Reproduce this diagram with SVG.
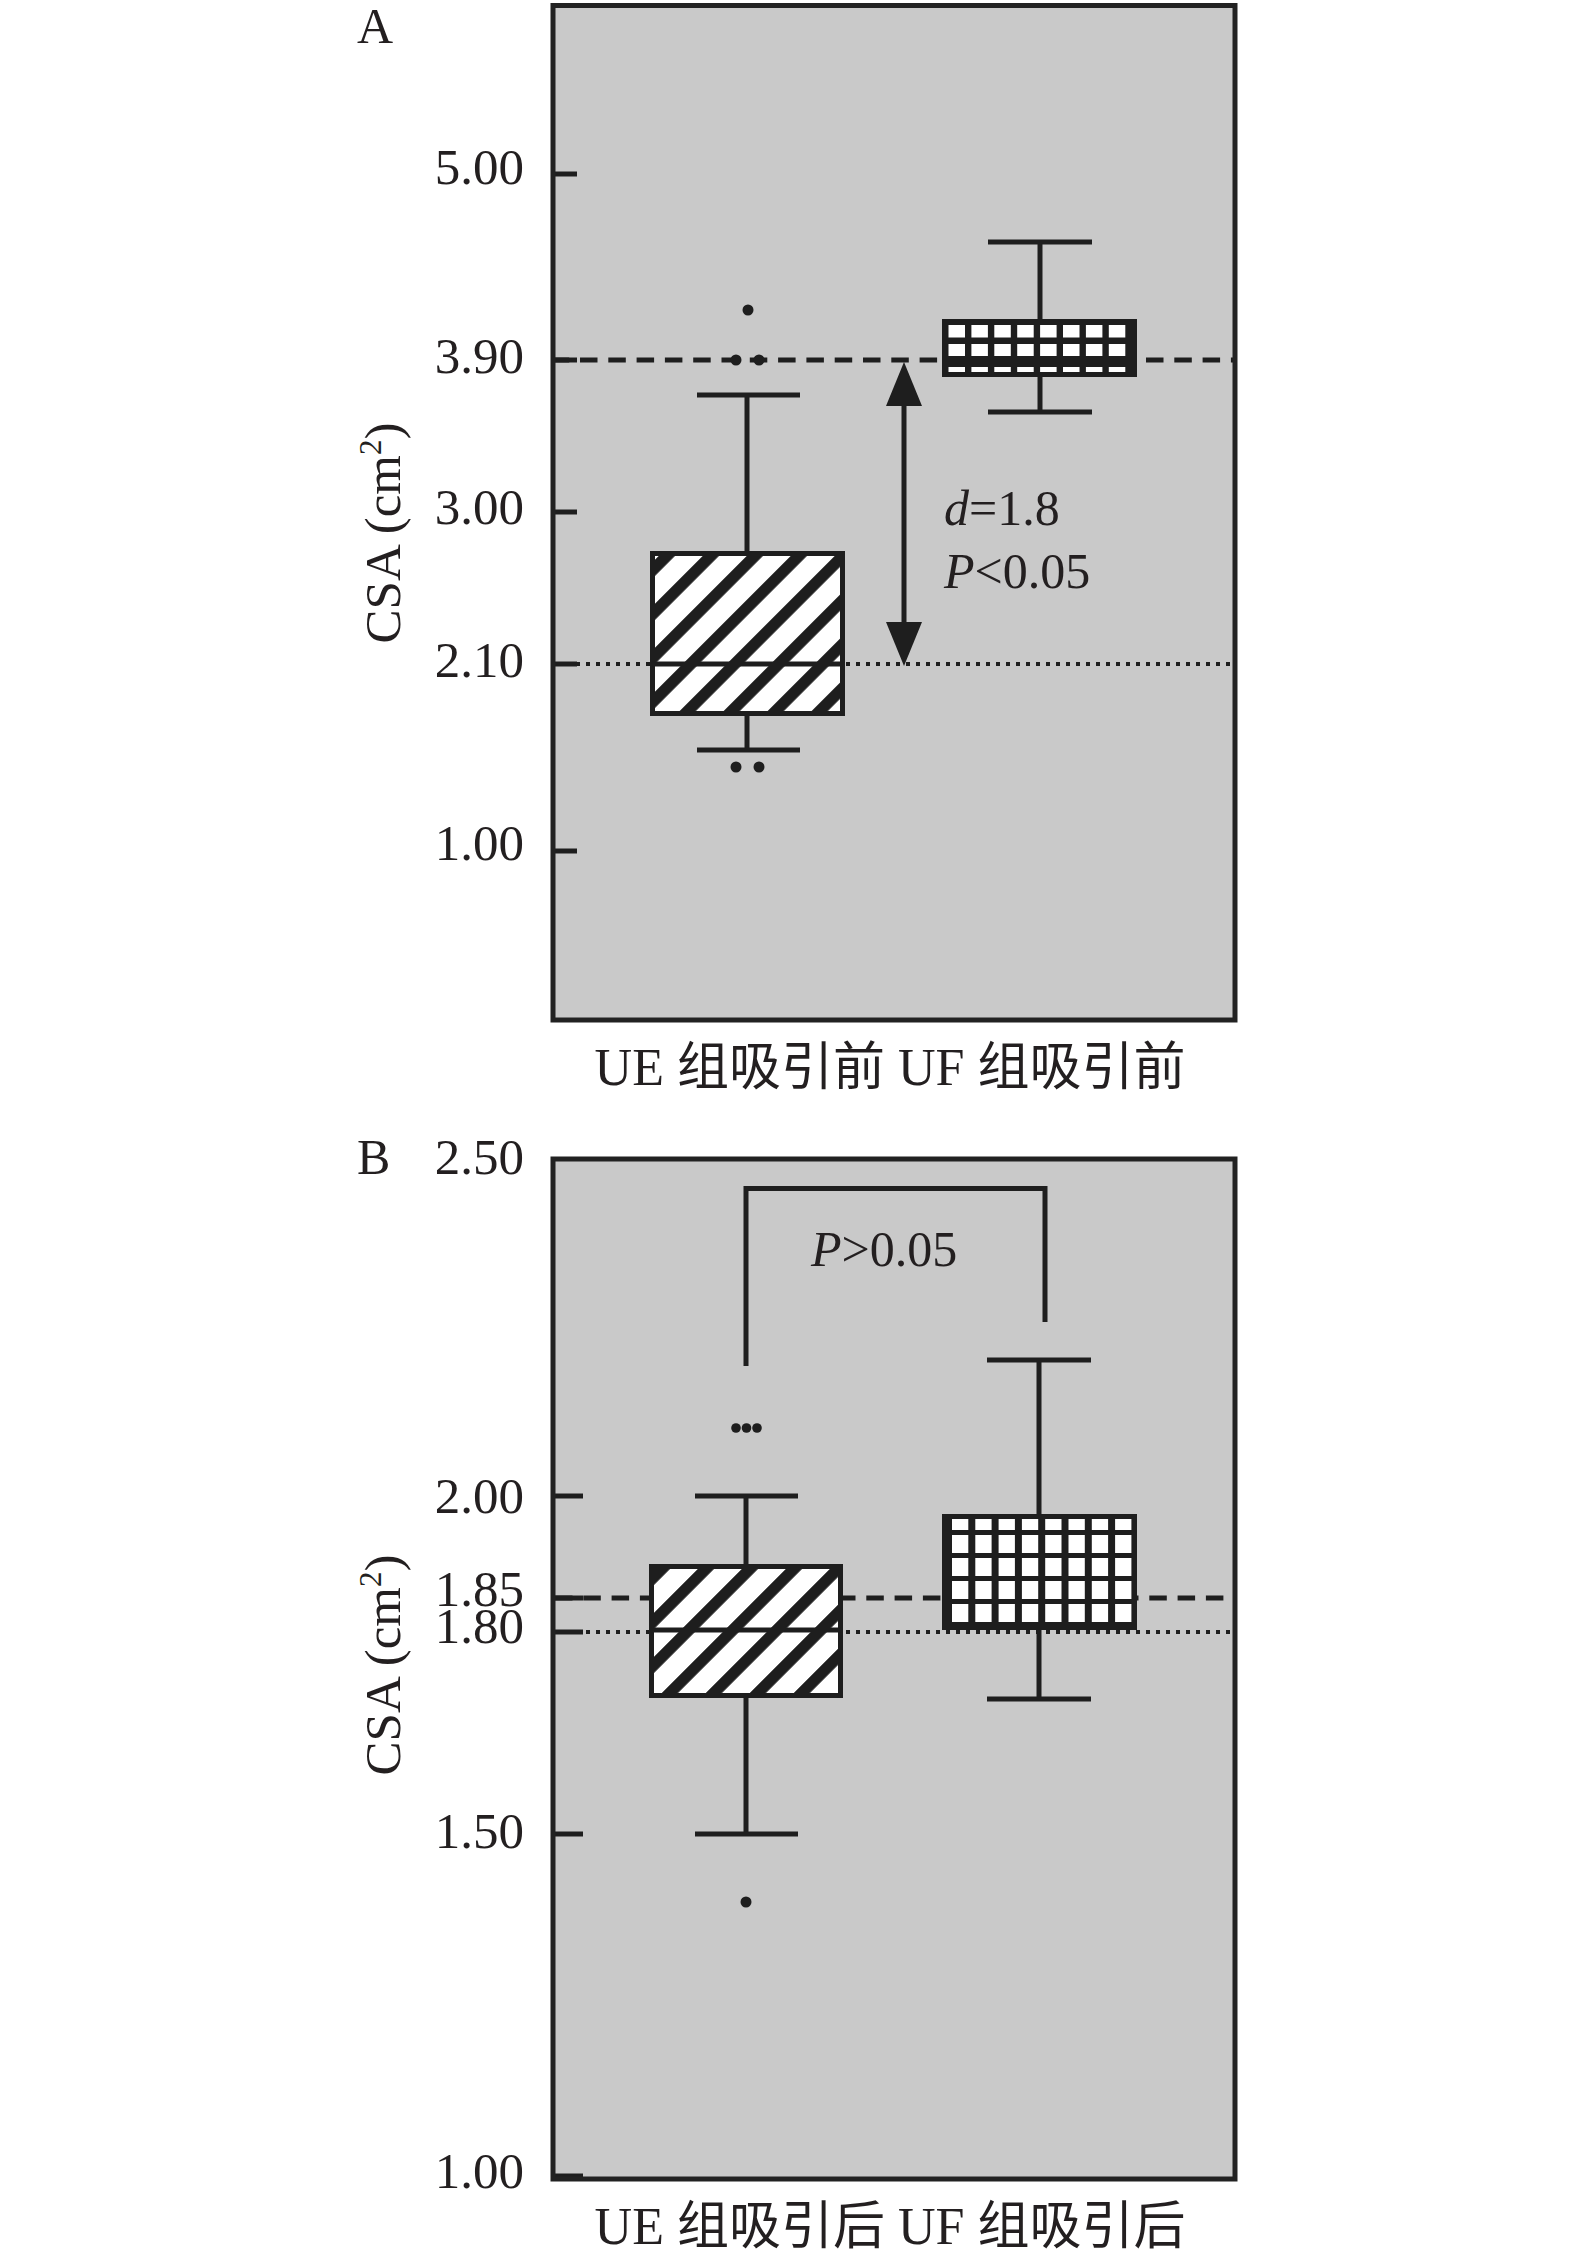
<svg xmlns="http://www.w3.org/2000/svg" width="1575" height="2252" viewBox="0 0 1575 2252">
<style>
text{font-family:"Liberation Serif","Noto Sans CJK SC",serif;fill:#231f20}
.tick{font-size:51px;text-anchor:end}
.lbl{font-size:52px}
.ln{stroke:#1e1e1e;stroke-width:5;fill:none}
.dash{stroke:#1e1e1e;stroke-width:5;stroke-dasharray:17.5 10.8;fill:none}
.dot{stroke:#1e1e1e;stroke-width:4;stroke-dasharray:4 6;fill:none}
.out{fill:#1e1e1e}
.cell{fill:#fff}
.dark{fill:#1e1e1e}
.ue{stroke:#1e1e1e;stroke-width:5}
</style>
<defs>
<pattern id="stripesA" patternUnits="userSpaceOnUse" x="18.9" y="0" width="31.11" height="20" patternTransform="rotate(45)">
<rect x="0" y="0" width="31.11" height="20" fill="#fff"/>
<rect x="0" y="0" width="11.5" height="20" fill="#1e1e1e"/>
</pattern>
<pattern id="stripesB" patternUnits="userSpaceOnUse" x="16.2" y="0" width="31.11" height="20" patternTransform="rotate(45)">
<rect x="0" y="0" width="31.11" height="20" fill="#fff"/>
<rect x="0" y="0" width="11.5" height="20" fill="#1e1e1e"/>
</pattern>
<marker id="head" viewBox="0 0 44 36" refX="20" refY="18" markerWidth="44" markerHeight="36" markerUnits="userSpaceOnUse" orient="auto-start-reverse">
<path d="M0,0 L44,18 L0,36 z" fill="#1e1e1e"/>
</marker>
</defs>

<!-- ================= PANEL A ================= -->
<g id="panel-a">
<rect id="frame-a-bg" x="553" y="5.5" width="682" height="1014.5" fill="#c9c9c9"/>
<text x="357" y="43" font-size="50">A</text>
<g id="axis-a">
<line class="ln" x1="553" y1="174" x2="577" y2="174"/>
<line class="ln" x1="553" y1="360" x2="577" y2="360"/>
<line class="ln" x1="553" y1="512" x2="577" y2="512"/>
<line class="ln" x1="553" y1="664" x2="577" y2="664"/>
<line class="ln" x1="553" y1="851" x2="577" y2="851"/>
<text class="tick" x="524" y="184">5.00</text>
<text class="tick" x="524" y="373">3.90</text>
<text class="tick" x="524" y="524">3.00</text>
<text class="tick" x="524" y="677">2.10</text>
<text class="tick" x="524" y="860">1.00</text>
<text font-size="51" text-anchor="middle" transform="translate(400,533) rotate(-90)">CSA (cm<tspan font-size="31" dy="-19">2</tspan><tspan dy="19">)</tspan></text>
</g>
<g id="reflines-a">
<line class="dash" x1="551.7" y1="360" x2="1233" y2="360"/>
<line class="dot" x1="556" y1="664" x2="1233" y2="664"/>
</g>
<g id="ue-before">
<line class="ln" x1="747" y1="395" x2="747" y2="553"/>
<line class="ln" x1="697" y1="395" x2="800" y2="395"/>
<line class="ln" x1="747" y1="716" x2="747" y2="750"/>
<line class="ln" x1="697" y1="750" x2="800" y2="750"/>
<rect class="ue" x="652.5" y="553.5" width="190" height="160" fill="url(#stripesA)"/>
<line class="ln" x1="652.5" y1="664" x2="842.5" y2="664"/>
<circle class="out" cx="748" cy="310" r="5.5"/>
<circle class="out" cx="736" cy="360" r="5.5"/>
<circle class="out" cx="759" cy="360" r="5.5"/>
<circle class="out" cx="736" cy="767" r="5.5"/>
<circle class="out" cx="759" cy="767" r="5.5"/>
</g>
<g id="uf-before">
<line class="ln" x1="1040" y1="242" x2="1040" y2="319"/>
<line class="ln" x1="988" y1="242" x2="1092" y2="242"/>
<line class="ln" x1="1040" y1="377" x2="1040" y2="412"/>
<line class="ln" x1="988" y1="412" x2="1092" y2="412"/>
<rect class="dark" x="942" y="319" width="195" height="58"/>
<g class="cell">
<rect x="948.5" y="325" width="16.5" height="12.5"/><rect x="971.4" y="325" width="16.5" height="12.5"/><rect x="994.3" y="325" width="16.5" height="12.5"/><rect x="1017.2" y="325" width="16.5" height="12.5"/><rect x="1040.1" y="325" width="16.5" height="12.5"/><rect x="1063" y="325" width="16.5" height="12.5"/><rect x="1085.9" y="325" width="16.5" height="12.5"/><rect x="1108.8" y="325" width="16.5" height="12.5"/>
<rect x="948.5" y="344" width="16.5" height="12"/><rect x="971.4" y="344" width="16.5" height="12"/><rect x="994.3" y="344" width="16.5" height="12"/><rect x="1017.2" y="344" width="16.5" height="12"/><rect x="1040.1" y="344" width="16.5" height="12"/><rect x="1063" y="344" width="16.5" height="12"/><rect x="1085.9" y="344" width="16.5" height="12"/><rect x="1108.8" y="344" width="16.5" height="12"/>
<rect x="948.5" y="367" width="16.5" height="5"/><rect x="971.4" y="367" width="16.5" height="5"/><rect x="994.3" y="367" width="16.5" height="5"/><rect x="1017.2" y="367" width="16.5" height="5"/><rect x="1040.1" y="367" width="16.5" height="5"/><rect x="1063" y="367" width="16.5" height="5"/><rect x="1085.9" y="367" width="16.5" height="5"/><rect x="1108.8" y="367" width="16.5" height="5"/>
</g>
</g>
<g id="stat-a">
<text x="944" y="525" font-size="50"><tspan font-style="italic">d</tspan>=1.8</text>
<text x="944" y="588" font-size="50"><tspan font-style="italic">P</tspan>&lt;0.05</text>
</g>
<rect id="frame-a" x="553" y="5.5" width="682" height="1014.5" fill="none" stroke="#222" stroke-width="5"/>
<text class="lbl" x="890" y="1085" text-anchor="middle">UE 组吸引前 UF 组吸引前</text>
</g>

<!-- ================= PANEL B ================= -->
<g id="panel-b">
<rect id="frame-b-bg" x="553" y="1159" width="682" height="1020" fill="#c9c9c9"/>
<text x="357" y="1174" font-size="50">B</text>
<g id="axis-b">
<line class="ln" x1="553" y1="1496" x2="583" y2="1496"/>
<line class="ln" x1="553" y1="1598" x2="583" y2="1598"/>
<line class="ln" x1="553" y1="1632" x2="583" y2="1632"/>
<line class="ln" x1="553" y1="1834" x2="583" y2="1834"/>
<line class="ln" x1="553" y1="2176" x2="583" y2="2176"/>
<text class="tick" x="524" y="1174">2.50</text>
<text class="tick" x="524" y="1513">2.00</text>
<text class="tick" x="524" y="1606">1.85</text>
<text class="tick" x="524" y="1643">1.80</text>
<text class="tick" x="524" y="1848">1.50</text>
<text class="tick" x="524" y="2188">1.00</text>
<text font-size="51" text-anchor="middle" transform="translate(400,1665) rotate(-90)">CSA (cm<tspan font-size="31" dy="-19">2</tspan><tspan dy="19">)</tspan></text>
</g>
<g id="reflines-b">
<line class="dash" x1="555" y1="1598" x2="1233" y2="1598"/>
<line class="dot" x1="556" y1="1632" x2="1233" y2="1632"/>
</g>
<g id="ue-after">
<line class="ln" x1="746" y1="1496" x2="746" y2="1566"/>
<line class="ln" x1="695" y1="1496" x2="798" y2="1496"/>
<line class="ln" x1="746" y1="1696" x2="746" y2="1834"/>
<line class="ln" x1="695" y1="1834" x2="798" y2="1834"/>
<rect class="ue" x="651.5" y="1566.5" width="189" height="129" fill="url(#stripesB)"/>
<line class="ln" x1="651.5" y1="1630" x2="840.5" y2="1630"/>
<circle class="out" cx="736" cy="1428" r="4.8"/>
<circle class="out" cx="746.5" cy="1428" r="4.8"/>
<circle class="out" cx="757" cy="1428" r="4.8"/>
<circle class="out" cx="746" cy="1902" r="5.5"/>
</g>
<g id="uf-after">
<line class="ln" x1="1039" y1="1360" x2="1039" y2="1514"/>
<line class="ln" x1="987" y1="1360" x2="1091" y2="1360"/>
<line class="ln" x1="1039" y1="1630" x2="1039" y2="1699"/>
<line class="ln" x1="987" y1="1699" x2="1091" y2="1699"/>
<rect class="dark" x="942" y="1514" width="195" height="116"/>
<g class="cell">
<rect x="952" y="1519" width="16.3" height="11"/><rect x="975.3" y="1519" width="16.3" height="11"/><rect x="998.6" y="1519" width="16.3" height="11"/><rect x="1021.9" y="1519" width="16.3" height="11"/><rect x="1045.2" y="1519" width="16.3" height="11"/><rect x="1068.5" y="1519" width="16.3" height="11"/><rect x="1091.8" y="1519" width="16.3" height="11"/><rect x="1115.1" y="1519" width="16.3" height="11"/>
<rect x="952" y="1535" width="16.3" height="18"/><rect x="975.3" y="1535" width="16.3" height="18"/><rect x="998.6" y="1535" width="16.3" height="18"/><rect x="1021.9" y="1535" width="16.3" height="18"/><rect x="1045.2" y="1535" width="16.3" height="18"/><rect x="1068.5" y="1535" width="16.3" height="18"/><rect x="1091.8" y="1535" width="16.3" height="18"/><rect x="1115.1" y="1535" width="16.3" height="18"/>
<rect x="952" y="1558" width="16.3" height="18"/><rect x="975.3" y="1558" width="16.3" height="18"/><rect x="998.6" y="1558" width="16.3" height="18"/><rect x="1021.9" y="1558" width="16.3" height="18"/><rect x="1045.2" y="1558" width="16.3" height="18"/><rect x="1068.5" y="1558" width="16.3" height="18"/><rect x="1091.8" y="1558" width="16.3" height="18"/><rect x="1115.1" y="1558" width="16.3" height="18"/>
<rect x="952" y="1581" width="16.3" height="18"/><rect x="975.3" y="1581" width="16.3" height="18"/><rect x="998.6" y="1581" width="16.3" height="18"/><rect x="1021.9" y="1581" width="16.3" height="18"/><rect x="1045.2" y="1581" width="16.3" height="18"/><rect x="1068.5" y="1581" width="16.3" height="18"/><rect x="1091.8" y="1581" width="16.3" height="18"/><rect x="1115.1" y="1581" width="16.3" height="18"/>
<rect x="952" y="1604" width="16.3" height="18"/><rect x="975.3" y="1604" width="16.3" height="18"/><rect x="998.6" y="1604" width="16.3" height="18"/><rect x="1021.9" y="1604" width="16.3" height="18"/><rect x="1045.2" y="1604" width="16.3" height="18"/><rect x="1068.5" y="1604" width="16.3" height="18"/><rect x="1091.8" y="1604" width="16.3" height="18"/><rect x="1115.1" y="1604" width="16.3" height="18"/>
</g>
</g>
<g id="stat-b">
<text x="811" y="1266" font-size="50"><tspan font-style="italic">P</tspan>&gt;0.05</text>
</g>
<rect id="frame-b" x="553" y="1159" width="682" height="1020" fill="none" stroke="#222" stroke-width="5"/>
<text class="lbl" x="890" y="2244" text-anchor="middle">UE 组吸引后 UF 组吸引后</text>
</g>

<!-- ================= CONNECTORS ================= -->
<g id="connectors">
<line id="arrow-d" class="ln" x1="904" y1="642" x2="904" y2="386" marker-start="url(#head)" marker-end="url(#head)"/>
<path id="bracket-p" class="ln" d="M746,1366 V1188.5 H1045 V1322"/>
</g>
</svg>
